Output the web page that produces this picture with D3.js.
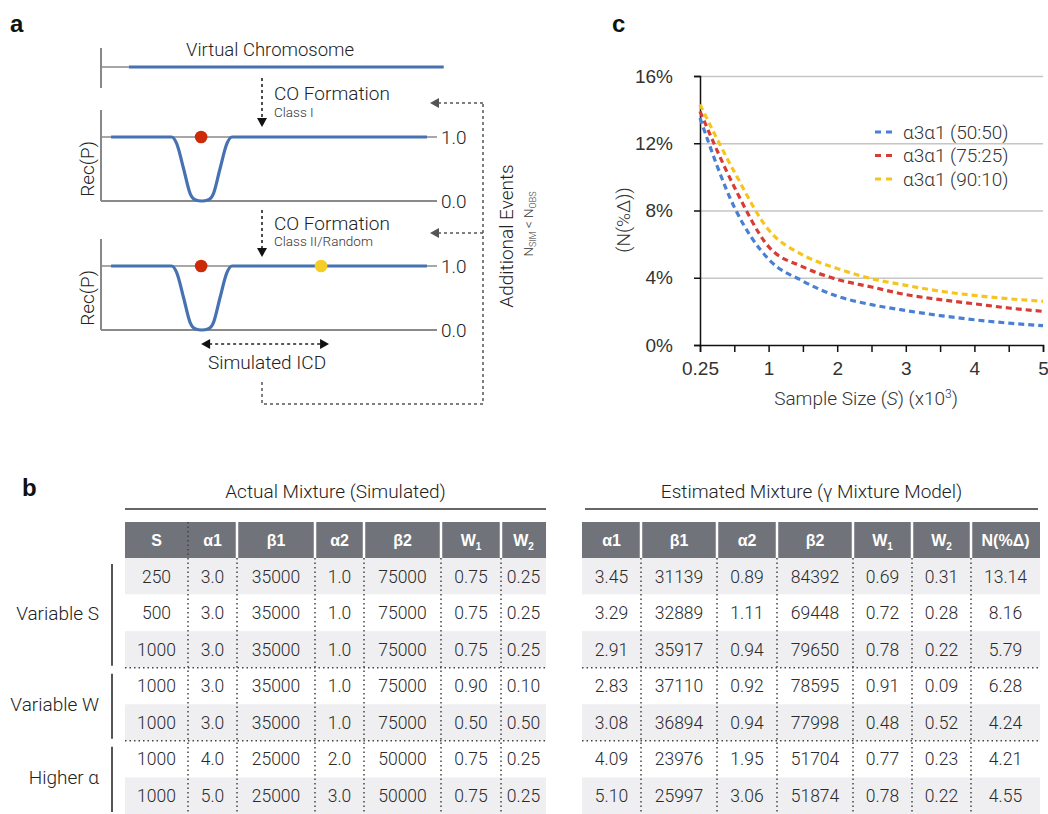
<!DOCTYPE html>
<html>
<head>
<meta charset="utf-8">
<script src="https://cdn.jsdelivr.net/npm/d3@7"></script>
<style>
  body { margin: 0; background: #fff; }
  svg { display: block; font-family: "Helvetica Neue", Roboto, "Liberation Sans", Arial, sans-serif; font-weight: 300; }
  .lbl { font-family: "Liberation Sans", Arial, sans-serif; font-weight: bold; font-size: 24px; fill: #111; }
</style>
</head>
<body>
<svg id="fig" width="1048" height="814"></svg>
<script>
'use strict';

// ---- panel a : recombination profile (position 0-100, Rec(P)) ----
var recPos = [3, 21, 22.5, 24.6, 26.5, 28, 30, 32, 33.5, 35.4, 37.5, 39, 97];
var recVal = [1, 1, 0.9, 0.5, 0.12, 0.02, 0, 0.02, 0.12, 0.5, 0.9, 1, 1];
var classIPos = [29.8];
var classIIPos = [65.5];
var recTicks = [1.0, 0.0];

// ---- panel c : N(%Δ) vs sample size ----
var sampleSizes = ['0.25', '0.5', '1', '1.5', '2', '2.5', '3', '3.5', '4', '4.5', '5'];
var mix5050 = [13.5, 8.2, 5.1, 3.8, 2.9, 2.4, 2.05, 1.75, 1.5, 1.3, 1.15];
var mix7525 = [13.9, 9.4, 5.85, 4.65, 3.9, 3.45, 3.0, 2.7, 2.45, 2.2, 2.0];
var mix9010 = [14.3, 10.3, 6.85, 5.35, 4.55, 3.95, 3.55, 3.2, 2.95, 2.75, 2.6];
var seriesNames = ['α3α1 (50:50)', 'α3α1 (75:25)', 'α3α1 (90:10)'];
var seriesColors = ['#4a80d4', '#d83d35', '#f6c51c'];
var yTicksC = [0, 4, 8, 12, 16];

// ---- panel b : tables ----
var groupNames = ['Variable S', 'Variable W', 'Higher α'];
var groupSizes = [3, 2, 2];
var actualHead = [['S', ''], ['α1', ''], ['β1', ''], ['α2', ''], ['β2', ''], ['W', '1'], ['W', '2']];
var estHead = [['α1', ''], ['β1', ''], ['α2', ''], ['β2', ''], ['W', '1'], ['W', '2'], ['N(%Δ)', '']];
var actualRows = [
	['250', '3.0', '35000', '1.0', '75000', '0.75', '0.25'],
	['500', '3.0', '35000', '1.0', '75000', '0.75', '0.25'],
	['1000', '3.0', '35000', '1.0', '75000', '0.75', '0.25'],
	['1000', '3.0', '35000', '1.0', '75000', '0.90', '0.10'],
	['1000', '3.0', '35000', '1.0', '75000', '0.50', '0.50'],
	['1000', '4.0', '25000', '2.0', '50000', '0.75', '0.25'],
	['1000', '5.0', '25000', '3.0', '50000', '0.75', '0.25']
];
var estRows = [
	['3.45', '31139', '0.89', '84392', '0.69', '0.31', '13.14'],
	['3.29', '32889', '1.11', '69448', '0.72', '0.28', '8.16'],
	['2.91', '35917', '0.94', '79650', '0.78', '0.22', '5.79'],
	['2.83', '37110', '0.92', '78595', '0.91', '0.09', '6.28'],
	['3.08', '36894', '0.94', '77998', '0.48', '0.52', '4.24'],
	['4.09', '23976', '1.95', '51704', '0.77', '0.23', '4.21'],
	['5.10', '25997', '3.06', '51874', '0.78', '0.22', '4.55']
];

var svg = d3.select('#fig');
var ink = '#222';

function tri(g, x, y, dir, color) {
	// small arrow head, tip at (x, y)
	var p;
	if (dir === 'down') p = [[x - 5, y - 9], [x + 5, y - 9], [x, y]];
	else if (dir === 'left') p = [[x + 9, y - 5], [x + 9, y + 5], [x, y]];
	else p = [[x - 9, y - 5], [x - 9, y + 5], [x, y]];
	g.append('path').attr('d', 'M' + p.join('L') + 'Z').attr('fill', color);
}

/* ================= panel a ================= */
var ga = svg.append('g');
ga.append('text').attr('class', 'lbl').attr('x', 10).attr('y', 32).text('a');

var xA = d3.scaleLinear().domain([0, 100]).range([101, 437]);
var recScales = [
	d3.scaleLinear().domain([0, 1]).range([201, 137]),
	d3.scaleLinear().domain([0, 1]).range([330, 266])
];
var recLine = d3.line().curve(d3.curveMonotoneX);

// virtual chromosome
ga.append('line').attr('x1', xA(0)).attr('x2', xA(0)).attr('y1', 48).attr('y2', 88)
	.attr('stroke', '#888').attr('stroke-width', 2);
ga.append('line').attr('x1', xA(0)).attr('x2', xA(8.3)).attr('y1', 67).attr('y2', 67)
	.attr('stroke', '#888').attr('stroke-width', 1.5);
ga.append('line').attr('x1', xA(8.3)).attr('x2', xA(102)).attr('y1', 67).attr('y2', 67)
	.attr('stroke', '#4672b2').attr('stroke-width', 3.2);
ga.append('text').attr('x', 270).attr('y', 56).attr('text-anchor', 'middle')
	.attr('font-size', 18.5).attr('fill', ink).text('Virtual Chromosome');

var coText = [['CO Formation', 'Class I', 100, 117, 78, 127], ['CO Formation', 'Class II/Random', 230, 246, 210, 257]];
coText.forEach(function (c) {
	ga.append('line').attr('x1', 262).attr('x2', 262).attr('y1', c[4]).attr('y2', c[5] - 8)
		.attr('stroke', ink).attr('stroke-width', 1.6).attr('stroke-dasharray', '3,3');
	tri(ga, 262, c[5], 'down', '#111');
	ga.append('text').attr('x', 274).attr('y', c[2]).attr('font-size', 19).attr('fill', ink).text(c[0]);
	ga.append('text').attr('x', 274).attr('y', c[3]).attr('font-size', 13.5).attr('fill', '#333').text(c[1]);
});

var dotsPerPanel = [
	[{p: classIPos[0], c: '#cc2a08'}],
	[{p: classIPos[0], c: '#cc2a08'}, {p: classIIPos[0], c: '#f5cd25'}]
];

recScales.forEach(function (yR, i) {
	var g = ga.append('g');
	g.append('line').attr('x1', xA(0)).attr('x2', xA(0)).attr('y1', yR(1.42)).attr('y2', yR(0))
		.attr('stroke', '#888').attr('stroke-width', 2);
	recTicks.forEach(function (t) {
		g.append('line').attr('x1', xA(0)).attr('x2', xA(100)).attr('y1', yR(t)).attr('y2', yR(t))
			.attr('stroke', '#8a8a8a').attr('stroke-width', t === 0 ? 2 : 1.5);
		g.append('text').attr('x', xA(100) + 4).attr('y', yR(t)).attr('dy', '0.36em')
			.attr('font-size', 19).attr('fill', ink).text(d3.format('.1f')(t));
	});
	g.append('path')
		.attr('d', recLine(recPos.map(function (p, k) { return [xA(p), yR(recVal[k])]; })))
		.attr('fill', 'none').attr('stroke', '#4672b2').attr('stroke-width', 3.2);
	g.selectAll('circle').data(dotsPerPanel[i]).enter().append('circle')
		.attr('cx', function (d) { return xA(d.p); }).attr('cy', yR(1)).attr('r', 6.3)
		.attr('fill', function (d) { return d.c; });
	g.append('text').attr('transform', 'translate(87,' + (yR(0.5) + 0) + ') rotate(-90)')
		.attr('text-anchor', 'middle').attr('dy', '0.36em').attr('font-size', 19).attr('fill', ink)
		.text('Rec(P)');
});

// simulated ICD arrow
var icdY = 344;
ga.append('line').attr('x1', xA(classIPos[0]) + 8).attr('x2', xA(classIIPos[0])).attr('y1', icdY).attr('y2', icdY)
	.attr('stroke', ink).attr('stroke-width', 1.6).attr('stroke-dasharray', '3,3');
tri(ga, xA(classIPos[0]), icdY, 'left', '#111');
tri(ga, xA(classIIPos[0]) + 8, icdY, 'right', '#111');
ga.append('text').attr('x', 267).attr('y', 369).attr('text-anchor', 'middle')
	.attr('font-size', 19).attr('fill', ink).text('Simulated ICD');

// feedback loop
ga.append('path').attr('d', 'M262,382V404H483V103')
	.attr('fill', 'none').attr('stroke', '#555').attr('stroke-width', 1.5).attr('stroke-dasharray', '3,3');
[103, 233].forEach(function (y) {
	ga.append('line').attr('x1', 483).attr('x2', 438).attr('y1', y).attr('y2', y)
		.attr('stroke', '#555').attr('stroke-width', 1.5).attr('stroke-dasharray', '3,3');
	tri(ga, 430, y, 'left', '#555');
});
ga.append('text').attr('transform', 'translate(506,236) rotate(-90)').attr('text-anchor', 'middle')
	.attr('dy', '0.36em').attr('font-size', 19).attr('fill', ink).text('Additional Events');
var nt = ga.append('text').attr('transform', 'translate(528,224) rotate(-90)').attr('text-anchor', 'middle')
	.attr('dy', '0.36em').attr('font-size', 13.5).attr('fill', '#333');
nt.append('tspan').text('N');
nt.append('tspan').attr('font-size', 9).attr('dy', 3).text('SIM');
nt.append('tspan').attr('dy', -3).text(' < N');
nt.append('tspan').attr('font-size', 9).attr('dy', 3).text('OBS');

/* ================= panel c ================= */
var gc = svg.append('g');
gc.append('text').attr('class', 'lbl').attr('x', 612).attr('y', 32).text('c');

var xC = d3.scalePoint().domain(sampleSizes).range([700, 1043]);
var yC = d3.scaleLinear().domain([0, 16]).range([345, 76]);

gc.append('g').attr('transform', 'translate(700,0)')
	.call(d3.axisLeft(yC).tickValues(yTicksC.slice(1)).tickSize(-343).tickFormat(''))
	.call(function (g) {
		g.select('.domain').remove();
		g.selectAll('line').attr('stroke', '#c6c6c6').attr('stroke-width', 1.5);
	});

gc.append('g').attr('transform', 'translate(700,0)')
	.call(d3.axisLeft(yC).tickValues(yTicksC).tickSize(6).tickPadding(21)
		.tickFormat(function (d) { return d + '%'; }))
	.call(function (g) {
		g.select('.domain').attr('stroke', '#111').attr('stroke-width', 1.5);
		g.selectAll('line').attr('stroke', '#111').attr('stroke-width', 1.5);
		g.selectAll('text').attr('font-size', 19).attr('fill', '#333').attr('font-family', null);
	});

gc.append('g').attr('transform', 'translate(0,345)')
	.call(d3.axisBottom(xC).tickSize(7).tickPadding(10)
		.tickFormat(function (d, i) { return i % 2 === 0 ? d : ''; }))
	.call(function (g) {
		g.select('.domain').attr('stroke', '#111').attr('stroke-width', 1.5);
		g.selectAll('line').attr('stroke', '#111').attr('stroke-width', 1.5);
		g.selectAll('text').attr('font-size', 19).attr('fill', '#333').attr('font-family', null);
	});

var lineC = d3.line()
	.x(function (d, i) { return xC(sampleSizes[i]); })
	.y(function (d) { return yC(d); })
	.curve(d3.curveMonotoneX);

[mix5050, mix7525, mix9010].forEach(function (s, i) {
	gc.append('path').attr('d', lineC(s)).attr('fill', 'none')
		.attr('stroke', seriesColors[i]).attr('stroke-width', 3.2).attr('stroke-dasharray', '6,4');
});

var legY = d3.scalePoint().domain(seriesNames).range([132, 179]);
seriesNames.forEach(function (n, i) {
	gc.append('line').attr('x1', 875).attr('x2', 893).attr('y1', legY(n)).attr('y2', legY(n))
		.attr('stroke', seriesColors[i]).attr('stroke-width', 3.2).attr('stroke-dasharray', '6,5');
	gc.append('text').attr('x', 903).attr('y', legY(n)).attr('dy', '0.36em')
		.attr('font-size', 19).attr('fill', '#333').text(n);
});

var xt = gc.append('text').attr('x', 866).attr('y', 405).attr('text-anchor', 'middle')
	.attr('font-size', 19).attr('fill', '#333');
xt.append('tspan').text('Sample Size (');
xt.append('tspan').attr('font-style', 'italic').text('S');
xt.append('tspan').text(') (x10');
xt.append('tspan').attr('font-size', 12).attr('dy', -7).text('3');
xt.append('tspan').attr('dy', 7).text(')');

gc.append('text').attr('transform', 'translate(623,220) rotate(-90)').attr('text-anchor', 'middle')
	.attr('dy', '0.36em').attr('font-size', 19).attr('fill', '#333').text('(N(%Δ))');

/* ================= panel b ================= */
var gb = svg.append('g');
gb.append('text').attr('class', 'lbl').attr('x', 22).attr('y', 496).text('b');

var rowY = d3.scaleBand().domain(d3.range(actualRows.length)).range([558, 814]);
var headTop = 522, headBot = 558;
var leftEdges = [125, 188, 237, 315, 364, 441, 501, 546];
var rightEdges = [582, 641, 717, 777, 853, 912, 971, 1040];

function drawTable(edges, head, rows, title, lineX, dottedFirst) {
	var g = gb.append('g');
	var x0 = edges[0], x1 = edges[edges.length - 1];
	g.append('text').attr('x', (lineX[0] + lineX[1]) / 2).attr('y', 498).attr('text-anchor', 'middle')
		.attr('font-size', 19).attr('fill', ink).text(title);
	g.append('line').attr('x1', lineX[0]).attr('x2', lineX[1]).attr('y1', 509).attr('y2', 509)
		.attr('stroke', '#666').attr('stroke-width', 2);

	// row backgrounds
	g.selectAll('rect.row').data(rows).enter().append('rect')
		.attr('x', x0).attr('width', x1 - x0)
		.attr('y', function (d, i) { return rowY(i); }).attr('height', rowY.bandwidth())
		.attr('fill', function (d, i) { return i % 2 === 0 ? '#efeff1' : '#fff'; });

	// header
	g.append('rect').attr('x', x0).attr('y', headTop).attr('width', x1 - x0).attr('height', headBot - headTop)
		.attr('fill', '#707379');
	edges.slice(1, -1).forEach(function (e, k) {
		if (k === 0 && dottedFirst) return;
		g.append('line').attr('x1', e).attr('x2', e).attr('y1', headTop).attr('y2', headBot)
			.attr('stroke', '#fff').attr('stroke-width', 2.5);
	});
	head.forEach(function (h, k) {
		var t = g.append('text').attr('x', (edges[k] + edges[k + 1]) / 2).attr('y', (headTop + headBot) / 2)
			.attr('dy', '0.36em').attr('text-anchor', 'middle').attr('font-size', 16)
			.attr('font-weight', 'bold').attr('fill', '#fff').attr('font-family', '"Liberation Sans", Arial, sans-serif');
		t.append('tspan').text(h[0]);
		if (h[1]) t.append('tspan').attr('font-size', 10).attr('dy', 4).text(h[1]);
	});

	// vertical dotted separators
	edges.slice(1, -1).forEach(function (e, k) {
		var top = (k === 0 && dottedFirst) ? headTop : headBot;
		g.append('line').attr('x1', e).attr('x2', e).attr('y1', top).attr('y2', 814)
			.attr('stroke', '#444').attr('stroke-width', 1.5).attr('stroke-dasharray', '1.5,3');
	});
	// group separators
	var acc = 0;
	groupSizes.slice(0, -1).forEach(function (n) {
		acc += n;
		g.append('line').attr('x1', x0).attr('x2', x1).attr('y1', rowY(acc)).attr('y2', rowY(acc))
			.attr('stroke', '#444').attr('stroke-width', 1.5).attr('stroke-dasharray', '1.5,3');
	});

	// cell text
	rows.forEach(function (r, i) {
		r.forEach(function (v, k) {
			g.append('text').attr('x', (edges[k] + edges[k + 1]) / 2)
				.attr('y', rowY(i) + rowY.bandwidth() / 2).attr('dy', '0.36em')
				.attr('text-anchor', 'middle').attr('font-size', 17.5).attr('fill', '#2a2a2a').text(v);
		});
	});
}

drawTable(leftEdges, actualHead, actualRows, 'Actual Mixture (Simulated)', [125, 546], true);
drawTable(rightEdges, estHead, estRows, 'Estimated Mixture (γ Mixture Model)', [585, 1038], false);

// group brackets and labels
var start = 0;
groupNames.forEach(function (name, i) {
	var y0 = rowY(start), y1 = start + groupSizes[i] < actualRows.length ? rowY(start + groupSizes[i]) : 814;
	gb.append('line').attr('x1', 112).attr('x2', 112).attr('y1', y0 + 6).attr('y2', y1 - 2)
		.attr('stroke', '#555').attr('stroke-width', 2);
	gb.append('text').attr('x', 99).attr('y', (y0 + y1) / 2).attr('dy', '0.36em').attr('text-anchor', 'end')
		.attr('font-size', 19).attr('fill', ink).text(name);
	start += groupSizes[i];
});
</script>
</body>
</html>
